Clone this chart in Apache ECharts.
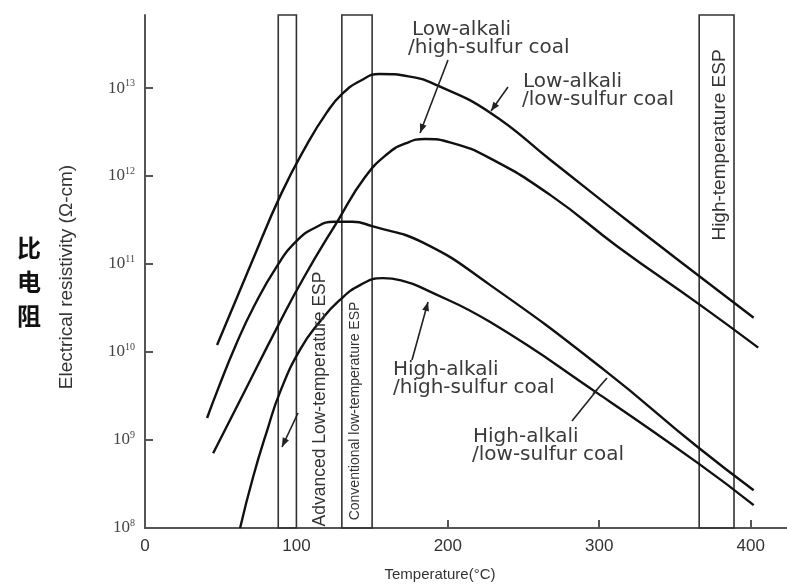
<!DOCTYPE html>
<html><head><meta charset="utf-8">
<script src="https://cdn.jsdelivr.net/npm/echarts@6/dist/echarts.min.js"></script>
<style>html,body{margin:0;padding:0;background:#fff}#c{width:787px;height:585px}</style>
</head><body><div id="c"></div>
<script>
// Tick labels
const xTicks = [0, 100, 200, 300, 400];
const xInnerTicks = [200, 300, 400];
const yTickExp = [8, 9, 10, 11, 12, 13];   // log10(resistivity, Ω-cm)

// ESP operating temperature bands (°C)
const bandNames = ['Advanced Low-temperature ESP', 'Conventional low-temperature ESP', 'High-temperature ESP'];
const bandFrom = [88, 130, 366];
const bandTo = [100, 150, 389];

// Curves: temperature (°C) and log10 of resistivity (Ω-cm)
const tempLAHS = [47.6, 70, 90, 107, 120, 130, 142, 155, 175, 193, 228, 268, 321, 367, 402];
const logLAHS  = [10.08, 11.00, 11.80, 12.36, 12.72, 12.93, 13.08, 13.16, 13.13, 13.03, 12.72, 12.18, 11.46, 10.85, 10.39];

const tempLALS = [45, 66, 87.3, 105, 127.6, 145, 160, 172, 185, 202, 228, 268, 312, 367, 405];
const logLALS  = [8.85, 9.56, 10.28, 10.85, 11.50, 11.98, 12.25, 12.37, 12.42, 12.38, 12.20, 11.78, 11.20, 10.53, 10.05];

const tempHAHS = [41, 48, 60, 72, 87.3, 100, 112, 125, 137, 150, 184, 228, 303, 365, 402];
const logHAHS  = [9.25, 9.57, 10.08, 10.52, 10.98, 11.26, 11.41, 11.48, 11.48, 11.43, 11.24, 10.76, 9.80, 8.92, 8.43];

const tempHALS = [62.8, 71.4, 80.7, 89.3, 102.5, 115.7, 128, 142, 157, 172, 184, 228, 299, 365, 402];
const logHALS  = [8.00, 8.58, 9.11, 9.55, 10.03, 10.35, 10.58, 10.76, 10.84, 10.80, 10.72, 10.34, 9.53, 8.74, 8.26];

const zip = (a, b) => a.map((v, i) => [v, b[i]]);
const chart = echarts.init(document.getElementById('c'), null, {renderer: 'canvas'});

const lineStyle = {color: '#111', width: 2.4};
function curve(name, t, r) {
  return {type: 'line', name, data: zip(t, r), smooth: 0.5, symbol: 'none',
    lineStyle, itemStyle: {color: '#111'}, silent: true, z: 3};
}

function arrowHead(x1, y1, x2, y2, len, w) {
  const dx = x2 - x1, dy = y2 - y1, L = Math.hypot(dx, dy);
  const ux = dx / L, uy = dy / L;
  const bx = x2 - ux * len, by = y2 - uy * len;
  return {type: 'polygon', shape: {points: [[x2, y2], [bx - uy * w, by + ux * w], [bx + uy * w, by - ux * w]]},
    style: {fill: '#222'}, z: 10};
}
function seg(x1, y1, x2, y2) {
  return {type: 'line', shape: {x1, y1, x2, y2}, style: {stroke: '#222', lineWidth: 1.6}, z: 10};
}
const labFont = '20px "DejaVu Sans"';
function label(text, x, y) {
  return {type: 'text', x, y, style: {text, font: labFont, fill: '#3a3a3a', align: 'left', verticalAlign: 'middle'}, z: 10};
}
function vText(text, x, y, size) {
  return {type: 'text', x, y, rotation: Math.PI / 2,
    style: {text, font: size + 'px "Liberation Sans"', fill: '#333', align: 'center', verticalAlign: 'middle'}, z: 10};
}

const graphics = [
  // axis titles
  {type: 'text', x: 440, y: 575, style: {text: 'Temperature(°C)', font: '15px "Liberation Sans"', fill: '#333', align: 'center', verticalAlign: 'middle'}},
  vText('Electrical resistivity (Ω-cm)', 67, 277, 19),
  {type: 'text', x: 29, y: 282, style: {text: '比\n电\n阻', font: 'bold 24px "Noto Sans CJK SC"', fill: '#111', align: 'center', verticalAlign: 'middle', lineHeight: 34}},
  // band names
  vText(bandNames[0], 320, 399, 17.5),
  vText(bandNames[1], 355, 411, 14),
  vText(bandNames[2], 720, 145, 19),
  // curve labels
  label('Low-alkali', 412, 30), label('/high-sulfur coal', 408, 48),
  label('Low-alkali', 523, 82), label('/low-sulfur coal', 522, 100),
  label('High-alkali', 393, 370), label('/high-sulfur coal', 393, 388),
  label('High-alkali', 473, 437), label('/low-sulfur coal', 472, 455),
  // pointers
  seg(448, 60, 420, 133), arrowHead(448, 60, 420, 133, 9, 3.5),
  seg(508, 87, 491, 111), arrowHead(508, 87, 491, 111, 9, 3.5),
  seg(412, 360, 428, 302), arrowHead(412, 360, 428, 302, 9, 3.5),
  seg(572, 421, 597, 390), seg(593, 394, 607, 378),
  seg(298, 413, 282, 447), arrowHead(298, 413, 282, 447, 9, 3.5)
];

const option = {
  animation: false,
  backgroundColor: '#fff',
  grid: {left: 145, right: 0, top: 15, bottom: 57},
  xAxis: {
    type: 'value', min: 0, max: 424,
    axisLine: {show: true, lineStyle: {color: '#555', width: 2}},
    axisTick: {show: true, inside: true, length: 8, customValues: xInnerTicks, lineStyle: {color: '#555', width: 2}},
    axisLabel: {customValues: xTicks, fontSize: 17, color: '#333', fontFamily: 'Liberation Sans', margin: 10},
    splitLine: {show: false}
  },
  yAxis: {
    type: 'value', min: 8, max: 13.83,
    axisLine: {show: true, lineStyle: {color: '#555', width: 2}},
    axisTick: {show: true, inside: true, length: 8, customValues: yTickExp, lineStyle: {color: '#555', width: 2}},
    axisLabel: {
      customValues: yTickExp, margin: 10,
      formatter: v => '{b|10}{s|' + v + '}',
      rich: {
        b: {fontSize: 17, fontFamily: 'Liberation Serif', color: '#444', lineHeight: 20, verticalAlign: 'middle'},
        s: {fontSize: 10, fontFamily: 'Liberation Serif', color: '#444', lineHeight: 20, verticalAlign: 'top', padding: [0, 0, 8, 0]}
      }
    },
    splitLine: {show: false}
  },
  series: [
    {type: 'line', name: 'bands', data: [], silent: true, z: 1,
      markArea: {silent: true, itemStyle: {color: 'rgba(0,0,0,0)', borderColor: '#333', borderWidth: 1.6},
        data: bandFrom.map((f, i) => [{xAxis: f}, {xAxis: bandTo[i]}])}},
    curve('Low-alkali/high-sulfur coal', tempLAHS, logLAHS),
    curve('Low-alkali/low-sulfur coal', tempLALS, logLALS),
    curve('High-alkali/high-sulfur coal', tempHAHS, logHAHS),
    curve('High-alkali/low-sulfur coal', tempHALS, logHALS)
  ],
  graphic: graphics
};
chart.setOption(option);
</script></body></html>
